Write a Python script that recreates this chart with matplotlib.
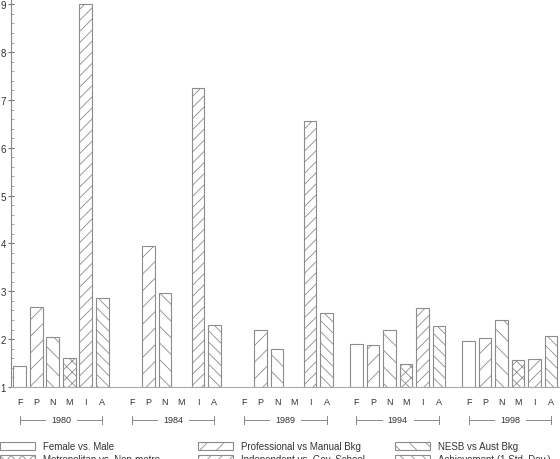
import numpy as np
import matplotlib.pyplot as plt
from matplotlib.patches import Patch
from matplotlib.ticker import MultipleLocator
import matplotlib.transforms as mtransforms

plt.rcParams['font.family'] = ['Liberation Sans', 'DejaVu Sans']
plt.rcParams['hatch.linewidth'] = 0.6

years = ['1980', '1984', '1989', '1994', '1998']
codes = ['F', 'P', 'N', 'M', 'I', 'A']
female = [1.44, np.nan, np.nan, 1.89, 1.97]
professional = [2.67, 3.94, 2.19, 1.87, 2.03]
nesb = [2.05, 2.97, 1.80, 2.20, 2.39]
metro = [1.61, np.nan, np.nan, 1.49, 1.56]
independent = [9.00, 7.25, 6.56, 2.66, 1.59]
achievement = [2.86, 2.30, 2.54, 2.27, 2.07]

labels = ['Female vs. Male', 'Professional vs Manual Bkg', 'NESB vs Aust Bkg',
          'Metropolitan vs. Non-metro', 'Independent vs. Gov. School',
          'Achievement (1 Std. Dev.)']
series = [female, professional, nesb, metro, independent, achievement]
hatches = ['', '//', '\\\\', 'xxx', '///', '\\\\\\']

edge = '#8c8c8c'
group_step = 6.8
width = 0.76

fig = plt.figure(figsize=(5.6, 4.6), dpi=100)
ax = fig.add_axes([11 / 560, 1 - 388 / 460, 549 / 560, 388 / 460])

gx = np.arange(len(years)) * group_step
for i, vals in enumerate(series):
    v = np.array(vals, dtype=float)
    ax.bar(gx + i, v - 1, bottom=1, width=width, facecolor='white',
           edgecolor=edge, linewidth=0.8, hatch=hatches[i])

ax.set_ylim(1, 9.11)
ax.set_xlim(-0.53, 32.74)
ax.yaxis.set_major_locator(MultipleLocator(1))
ax.yaxis.set_minor_locator(MultipleLocator(0.2))
ax.tick_params(axis='y', which='major', direction='inout', length=5,
               color='#777777', labelsize=7, labelcolor='#333333', pad=1)
ax.tick_params(axis='y', which='minor', direction='in', length=2.5, color='#999999')

xt = (gx[:, None] + np.arange(len(codes))[None, :]).ravel()
ax.set_xticks(xt)
ax.set_xticklabels(codes * len(years))
ax.tick_params(axis='x', length=0, pad=7, labelsize=6.5, labelcolor='#333333')

for s in ['top', 'right']:
    ax.spines[s].set_visible(False)
ax.spines['left'].set_color('#888888')
ax.spines['bottom'].set_color('#aaaaaa')
ax.spines['left'].set_linewidth(0.8)
ax.spines['bottom'].set_linewidth(0.8)

# year brackets under each group
trans = mtransforms.blended_transform_factory(ax.transData, ax.transAxes)
yb = -0.085
for g, yr in zip(gx, years):
    mid = g + 2.5
    ax.plot([g, mid - 0.97], [yb, yb], color='#888888', lw=0.7, transform=trans, clip_on=False)
    ax.plot([mid + 0.97, g + 5], [yb, yb], color='#888888', lw=0.7, transform=trans, clip_on=False)
    for xe in (g, g + 5):
        ax.plot([xe, xe], [yb - 0.01, yb + 0.01], color='#888888', lw=0.7,
                transform=trans, clip_on=False)
    ax.text(mid, yb, yr, transform=trans, ha='center', va='center',
            fontsize=6.5, color='#333333')

# legend in three columns
handles = [Patch(facecolor='white', edgecolor=edge, linewidth=0.8, hatch=h) for h in hatches]
cols = [(0, [0, 3]), (198, [1, 4]), (395, [2, 5])]
for xpx, idx in cols:
    fig.legend([handles[k] for k in idx], [labels[k] for k in idx],
               loc='upper left', bbox_to_anchor=(xpx / 560, 1 - 442 / 460),
               frameon=False, fontsize=7, borderpad=0, borderaxespad=0,
               handlelength=3.6, handleheight=0.85, handletextpad=0.8,
               labelspacing=0.35, labelcolor='#333333')

fig.savefig('out.png', dpi=100, facecolor='white')
